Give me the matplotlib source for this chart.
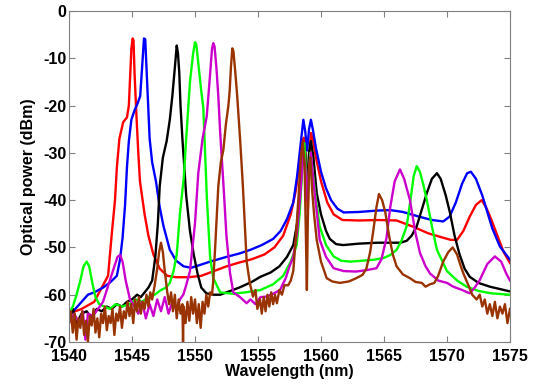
import matplotlib
matplotlib.use("Agg")
import matplotlib.pyplot as plt

plt.rcParams["font.family"] = ["Liberation Sans", "DejaVu Sans"]
plt.rcParams["font.weight"] = "bold"
plt.rcParams["axes.unicode_minus"] = False

# (wavelength nm, power dBm)
red_pts = [
    (1540.0, -64), (1541.0, -63), (1542.0, -61.5), (1542.5, -59), (1543.1, -56),
    (1543.4, -47), (1543.65, -40), (1543.8, -33), (1544.0, -27), (1544.3, -23.5),
    (1544.6, -22.5), (1544.75, -20), (1544.85, -14), (1544.95, -8), (1545.05, -5.8),
    (1545.12, -6.2), (1545.2, -13), (1545.35, -22), (1545.5, -30), (1545.63, -36),
    (1546.0, -43), (1546.3, -47.5), (1546.7, -51.5), (1547.2, -54.5), (1547.8, -56),
    (1548.5, -56.3), (1549.5, -56.3), (1550.5, -56), (1551.5, -55), (1552.5, -54),
    (1553.5, -53.2), (1554.5, -52.5), (1555.5, -51.5), (1556.3, -50), (1557.0, -47.5),
    (1557.6, -43), (1558.0, -38), (1558.3, -32), (1558.5, -27.5), (1558.65, -26.8),
    (1558.8, -31), (1558.95, -42.5), (1559.05, -32), (1559.2, -25.8), (1559.35, -27),
    (1559.6, -31), (1560.0, -36), (1560.5, -40.5), (1561.0, -43), (1561.7, -44.2),
    (1563.0, -44.3), (1564.5, -44.2), (1566.0, -44.3), (1567.3, -45.6), (1568.5, -47),
    (1569.5, -47.8), (1570.3, -48.4), (1570.8, -48.4), (1571.3, -46.5), (1571.8, -43.5),
    (1572.3, -41), (1572.75, -40), (1573.1, -41.5), (1573.5, -44), (1574.0, -47.5),
    (1574.5, -51), (1575.0, -53.3),
]

blue_pts = [
    (1540.0, -64.5), (1540.5, -63), (1541.0, -61.5), (1541.5, -60), (1542.0, -59.5),
    (1542.7, -58.5), (1543.3, -57.3), (1543.8, -56), (1544.05, -52.5), (1544.25, -48),
    (1544.45, -41), (1544.6, -33), (1544.75, -27.5), (1544.95, -23), (1545.2, -21),
    (1545.45, -19.5), (1545.65, -18), (1545.8, -12), (1545.95, -5.8), (1546.05, -6),
    (1546.2, -15), (1546.4, -27), (1546.6, -32), (1546.9, -36), (1547.2, -41.5),
    (1547.5, -45.5), (1548.0, -50.5), (1548.5, -52.8), (1549.1, -54), (1549.7, -54.3),
    (1550.4, -53.7), (1551.2, -53), (1552.5, -52), (1553.5, -51.3), (1554.4, -50.5),
    (1555.3, -49.5), (1556.2, -48.2), (1556.8, -46.5), (1557.3, -44), (1557.8, -40.5),
    (1558.1, -35), (1558.35, -29), (1558.6, -23), (1558.75, -25.5), (1558.9, -29.5),
    (1559.05, -25), (1559.2, -23), (1559.35, -25), (1559.6, -29), (1560.0, -34),
    (1560.4, -37.5), (1560.8, -40), (1561.3, -41.8), (1561.8, -42.6), (1563.0, -42.5),
    (1564.5, -42.2), (1565.5, -42.1), (1566.5, -42.5), (1567.8, -43.5), (1568.8, -44.2),
    (1569.7, -44.5), (1570.2, -43.5), (1570.7, -40.5), (1571.2, -36.5), (1571.6, -34.3),
    (1571.9, -34), (1572.3, -35.5), (1572.8, -39), (1573.2, -42.5), (1573.6, -46),
    (1574.2, -49.8), (1575.0, -52.6),
]

black_pts = [
    (1540.0, -65), (1540.3, -63), (1540.6, -66), (1541.0, -64), (1541.4, -63.5),
    (1541.8, -65), (1542.2, -63), (1542.6, -63.5), (1543.0, -62.5), (1543.4, -63),
    (1543.8, -62), (1544.2, -62.5), (1544.6, -61.5), (1545.0, -61), (1545.4, -60),
    (1545.7, -60.5), (1546.0, -59.5), (1546.3, -58.5), (1546.6, -57), (1546.85, -52),
    (1547.05, -45), (1547.2, -37), (1547.45, -31), (1547.75, -27.5), (1548.0, -23),
    (1548.2, -18), (1548.4, -12), (1548.55, -7.3), (1548.65, -9), (1548.75, -13),
    (1548.85, -20), (1549.0, -27), (1549.15, -33), (1549.3, -39), (1549.6, -46.5),
    (1549.9, -51.5), (1550.2, -55.5), (1550.5, -58.5), (1550.9, -59.7), (1551.5, -60),
    (1552.0, -60), (1552.5, -59.5), (1553.5, -58.5), (1554.5, -57.3), (1555.2, -56.2),
    (1556.0, -55.3), (1556.7, -54), (1557.3, -52), (1557.8, -49.5), (1558.1, -45),
    (1558.35, -37), (1558.6, -28), (1558.75, -30), (1558.9, -38), (1559.05, -30),
    (1559.2, -27.5), (1559.4, -31), (1559.66, -38.5), (1560.0, -43), (1560.4, -46.5),
    (1560.7, -48.2), (1561.2, -49.3), (1561.75, -49.5), (1563.0, -49.2), (1564.5, -49),
    (1565.5, -49), (1566.3, -49), (1566.8, -48.6), (1567.2, -47.5), (1567.6, -45.5),
    (1568.0, -42), (1568.4, -38.5), (1568.8, -35.5), (1569.2, -34.3), (1569.5, -35.5),
    (1569.9, -39), (1570.24, -42.7), (1570.6, -47.5), (1571.0, -51.5), (1571.4, -54.5),
    (1571.8, -56.2), (1572.5, -57.5), (1573.4, -58.3), (1574.2, -58.8), (1575.0, -59.3),
]

green_pts = [
    (1540.0, -64), (1540.3, -62.5), (1540.6, -60), (1540.9, -57), (1541.15, -54),
    (1541.4, -53), (1541.6, -54), (1541.85, -57.5), (1542.1, -60.5), (1542.4, -62),
    (1542.8, -62.5), (1543.25, -63), (1543.7, -62), (1544.2, -62.5), (1544.8, -62),
    (1545.3, -61), (1545.8, -61.5), (1546.3, -60.5), (1546.8, -60), (1547.3, -59),
    (1547.7, -58.5), (1548.0, -57.5), (1548.3, -55), (1548.55, -51.5), (1548.8, -43),
    (1549.1, -35.5), (1549.3, -27), (1549.6, -15), (1549.85, -9), (1550.0, -6.6),
    (1550.1, -7), (1550.3, -12), (1550.5, -17), (1550.66, -20.5), (1550.8, -30),
    (1550.95, -40), (1551.2, -52), (1551.45, -56.5), (1552.0, -59.5), (1553.0, -59.8),
    (1554.0, -59.5), (1555.2, -59), (1556.2, -57.8), (1557.0, -56), (1557.6, -53),
    (1558.07, -49.5), (1558.3, -43), (1558.55, -32), (1558.68, -28), (1558.85, -36),
    (1559.0, -38), (1559.15, -30), (1559.3, -33), (1559.6, -40), (1559.9, -45.6),
    (1560.4, -49.5), (1561.0, -51.9), (1561.6, -52.8), (1562.3, -53), (1563.3, -52.8),
    (1564.2, -52.6), (1565.0, -52.2), (1565.5, -51.6), (1566.0, -50.5), (1566.4, -48.5),
    (1566.8, -45.5), (1567.1, -40), (1567.35, -35), (1567.6, -32.8), (1567.85, -34),
    (1568.1, -36.5), (1568.4, -40), (1568.8, -45.5), (1569.2, -50.5), (1570.0, -55),
    (1570.8, -57), (1571.56, -58.3), (1572.5, -59.2), (1573.5, -59.7), (1575.0, -60),
]

magenta_pts = [
    (1540.0, -66), (1540.4, -64), (1540.8, -66), (1541.1, -63.5), (1541.3, -69.5),
    (1541.5, -64), (1541.9, -64.5), (1542.3, -63), (1542.7, -61.5), (1543.0, -59),
    (1543.3, -56.5), (1543.6, -54), (1543.85, -52), (1544.05, -51.6), (1544.25, -53),
    (1544.5, -57), (1544.84, -61), (1545.2, -62.5), (1545.5, -64), (1545.8, -61.5),
    (1546.1, -65), (1546.4, -62), (1546.7, -64.5), (1547.0, -61), (1547.3, -63.5),
    (1547.6, -60.5), (1547.9, -64), (1548.2, -61.5), (1548.5, -63), (1548.8, -61),
    (1549.07, -60), (1549.3, -58), (1549.6, -55), (1549.8, -50), (1550.0, -44.9),
    (1550.26, -34.3), (1550.6, -27), (1550.93, -22.3), (1551.15, -15), (1551.35, -8),
    (1551.45, -6.8), (1551.55, -7.5), (1551.7, -12), (1551.85, -18), (1552.0, -25.8),
    (1552.25, -36.4), (1552.5, -47.7), (1552.78, -55.4), (1553.04, -59.5), (1553.57, -60.5),
    (1554.1, -61.8), (1554.4, -61), (1554.8, -62), (1555.2, -60.5), (1555.7, -60.4),
    (1556.2, -59.8), (1556.75, -59), (1557.2, -56.5), (1557.5, -54), (1557.8, -52),
    (1558.1, -47), (1558.35, -39), (1558.6, -30), (1558.75, -33), (1558.9, -40),
    (1559.05, -33), (1559.2, -30), (1559.4, -36), (1559.9, -48.4), (1560.4, -52),
    (1561.0, -54.4), (1561.8, -55), (1562.8, -55.1), (1563.6, -54.8), (1564.4, -54.4),
    (1564.8, -52.5), (1565.2, -48), (1565.5, -41.4), (1565.85, -36), (1566.27, -33.5),
    (1566.6, -35.5), (1567.06, -40), (1567.5, -47), (1567.86, -51.2), (1568.3, -54),
    (1568.65, -55.5), (1569.3, -57), (1570.0, -57.5), (1570.5, -58.3), (1571.2, -59),
    (1571.8, -59.7), (1572.2, -58.5), (1572.6, -56.9), (1573.2, -53.5), (1573.8, -51.9),
    (1574.3, -53), (1574.7, -55.5), (1575.0, -57),
]

brown_pts = [
    (1540.0, -66), (1540.15, -63.5), (1540.3, -68), (1540.45, -64), (1540.6, -69.5),
    (1540.75, -65), (1540.9, -67), (1541.05, -63.5), (1541.2, -68.5), (1541.35, -65.5),
    (1541.5, -70), (1541.65, -64.5), (1541.8, -66.5), (1541.95, -63), (1542.1, -68),
    (1542.25, -65), (1542.4, -69), (1542.55, -64), (1542.7, -66), (1542.85, -62.5),
    (1543.0, -67.5), (1543.15, -64.5), (1543.3, -66), (1543.45, -63), (1543.6, -68.5),
    (1543.75, -64), (1543.9, -65.5), (1544.05, -62.5), (1544.2, -67), (1544.35, -63.5),
    (1544.5, -65), (1544.65, -61.5), (1544.8, -64.5), (1544.95, -62), (1545.1, -66),
    (1545.25, -61), (1545.4, -63.5), (1545.55, -60.5), (1545.7, -64), (1545.85, -61.5),
    (1546.0, -63), (1546.15, -60), (1546.3, -62.5), (1546.45, -59.5), (1546.6, -61),
    (1546.8, -58), (1547.0, -54.5), (1547.15, -51), (1547.3, -49), (1547.45, -51),
    (1547.6, -55), (1547.8, -59.5), (1547.95, -62), (1548.1, -59.5), (1548.25, -63.5),
    (1548.4, -60), (1548.55, -65), (1548.7, -61), (1548.85, -64), (1549.0, -62),
    (1549.05, -70), (1549.1, -62.5), (1549.25, -66), (1549.4, -61.5), (1549.55, -65.5),
    (1549.7, -60.5), (1549.85, -64), (1550.0, -61), (1550.15, -66), (1550.3, -62),
    (1550.45, -67), (1550.6, -61.5), (1550.75, -64), (1550.9, -60), (1551.05, -62.5),
    (1551.2, -59.5), (1551.35, -60), (1551.45, -57), (1551.6, -50), (1551.75, -42),
    (1551.85, -37), (1552.05, -32), (1552.25, -29.4), (1552.45, -24), (1552.65, -20),
    (1552.75, -17), (1552.85, -12), (1552.96, -7.9), (1553.05, -8.5), (1553.2, -13),
    (1553.35, -18), (1553.5, -24), (1553.6, -28), (1553.8, -37), (1553.95, -45),
    (1554.1, -53), (1554.35, -57.5), (1554.6, -60.4), (1554.8, -59), (1554.95, -63),
    (1555.16, -61), (1555.3, -64), (1555.45, -60.5), (1555.6, -63.5), (1555.75, -60),
    (1555.9, -62.5), (1556.05, -59.5), (1556.2, -62), (1556.35, -60), (1556.5, -61.8),
    (1556.7, -59), (1556.9, -60), (1557.1, -58), (1557.4, -58), (1557.6, -57),
    (1557.8, -55), (1558.0, -48), (1558.2, -40), (1558.4, -31), (1558.55, -27.5),
    (1558.7, -33), (1558.8, -48), (1558.88, -59), (1558.95, -45), (1559.05, -33),
    (1559.15, -31), (1559.3, -38), (1559.45, -43), (1559.66, -48.4), (1560.0, -53),
    (1560.45, -56.5), (1560.9, -57.2), (1561.5, -57.5), (1562.2, -57.2), (1562.8, -56.5),
    (1563.3, -55.8), (1563.6, -54.5), (1563.9, -51), (1564.15, -46.5), (1564.4, -41.5),
    (1564.6, -38.7), (1564.85, -40), (1565.1, -42.5), (1565.4, -47.5), (1565.7, -51.5),
    (1566.0, -54), (1566.5, -55.7), (1567.06, -56.5), (1567.5, -57.3), (1568.0, -57.5),
    (1568.3, -58.3), (1568.65, -57.8), (1569.0, -57.5), (1569.3, -56), (1569.7, -53),
    (1570.1, -51), (1570.45, -50), (1570.8, -51.5), (1571.1, -54), (1571.3, -55.5),
    (1571.7, -58), (1572.0, -60), (1572.35, -61), (1572.6, -60), (1572.8, -62.5),
    (1573.0, -61), (1573.2, -64), (1573.4, -62), (1573.6, -64.5), (1573.8, -61.5),
    (1574.0, -65), (1574.2, -62.5), (1574.4, -64), (1574.6, -62), (1574.8, -66),
    (1575.0, -63),
]

traces = [
    (red_pts, "#ff0000"),
    (blue_pts, "#0000ff"),
    (black_pts, "#000000"),
    (green_pts, "#00ff00"),
    (magenta_pts, "#cc00cc"),
    (brown_pts, "#993300"),
]

fig = plt.figure(figsize=(5.37, 3.89), dpi=100)
ax = fig.add_axes([0.1285, 0.1208, 0.8212, 0.8509])

for pts, col in traces:
    wl = [p[0] for p in pts]
    db = [p[1] for p in pts]
    ax.plot(wl, db, color=col, lw=1.7)

ax.set_xlim(1540, 1575)
ax.set_ylim(-70, 0)
ax.set_xticks(range(1540, 1576, 5))
ax.set_yticks(range(-70, 1, 10))
ax.tick_params(direction="in", top=True, right=True, length=4, width=0.8,
               color="#808080", labelsize=11.5, pad=2)
ax.tick_params(axis="x", pad=5)
for lab in ax.get_xticklabels() + ax.get_yticklabels():
    lab.set_fontweight("bold")
for s in ax.spines.values():
    s.set_color("#808080")
    s.set_linewidth(0.8)

ax.set_xlabel("Wavelength (nm)", fontsize=11.5, fontweight="bold", labelpad=0)
ax.set_ylabel("Optical power (dBm)", fontsize=11.5, fontweight="bold", labelpad=5)

fig.savefig("out.png", dpi=100)
